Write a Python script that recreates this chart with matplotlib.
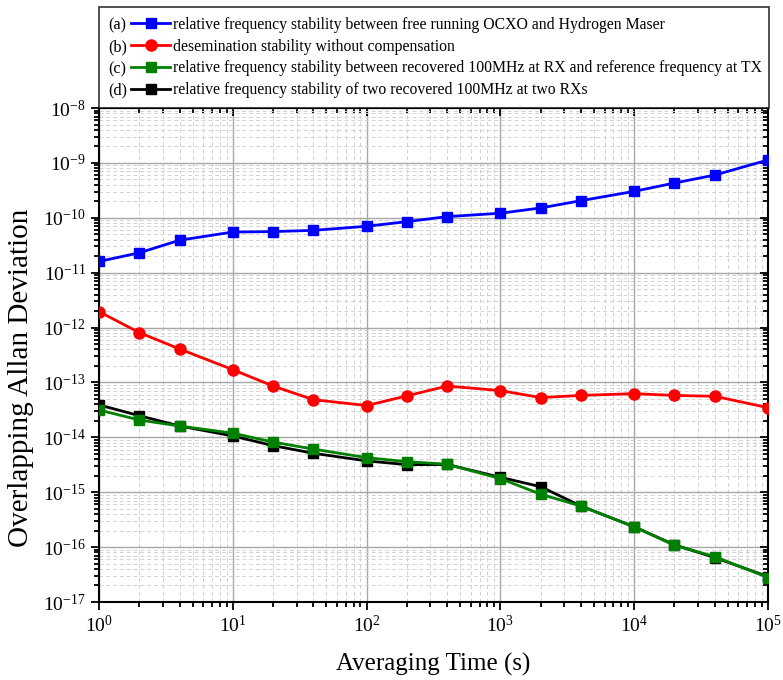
import matplotlib
matplotlib.use("Agg")
import matplotlib.pyplot as plt
from matplotlib.legend_handler import HandlerLine2D
from matplotlib.text import Text
from matplotlib.ticker import LogLocator, LogFormatterMathtext, NullFormatter

plt.rcParams["font.family"] = "Liberation Serif"
plt.rcParams["mathtext.fontset"] = "stix"

# averaging time (s)
tau = [1, 2, 4, 10, 20, 40, 100, 200, 400, 1000, 2000, 4000, 10000, 20000, 40000, 100000]

# (a) free running OCXO vs Hydrogen Maser
adev_a = [1.6e-11, 2.3e-11, 3.9e-11, 5.5e-11, 5.6e-11, 5.9e-11, 7.0e-11, 8.5e-11,
          1.05e-10, 1.21e-10, 1.51e-10, 2.05e-10, 3.03e-10, 4.3e-10, 6.0e-10, 1.13e-9]
# (b) dissemination without compensation
adev_b = [1.95e-12, 8.1e-13, 4.07e-13, 1.71e-13, 8.6e-14, 4.86e-14, 3.79e-14, 5.7e-14,
          8.6e-14, 7.1e-14, 5.3e-14, 5.8e-14, 6.25e-14, 5.8e-14, 5.6e-14, 3.47e-14]
# (c) recovered 100MHz at RX vs reference at TX
adev_c = [3.15e-14, 2.07e-14, 1.61e-14, 1.19e-14, 8.2e-15, 6.1e-15, 4.27e-15, 3.6e-15,
          3.24e-15, 1.77e-15, 9.2e-16, 5.6e-16, 2.33e-16, 1.08e-16, 6.7e-17, 2.79e-17]
# (d) two recovered 100MHz at two RXs
adev_d = [3.9e-14, 2.48e-14, 1.61e-14, 1.06e-14, 7.06e-15, 5.13e-15, 3.72e-15, 3.18e-15,
          3.2e-15, 1.87e-15, 1.26e-15, 5.6e-16, 2.35e-16, 1.1e-16, 6.45e-17, 2.9e-17]

prefixes = ["(a)", "(b)", "(c)", "(d)"]
labels = [
    "relative frequency stability between free running OCXO and Hydrogen Maser",
    "desemination stability without compensation",
    "relative frequency stability between recovered 100MHz at RX and reference frequency at TX",
    "relative frequency stability of two recovered 100MHz at two RXs",
]

LEG_FS = 11.3


class PrefixHandler(HandlerLine2D):
    """legend handle with a text prefix drawn before the line"""
    def __init__(self, prefix, frac=0.37, **kw):
        super().__init__(**kw)
        self.prefix = prefix
        self.frac = frac

    def create_artists(self, legend, orig_handle, xdescent, ydescent, width, height, fontsize, trans):
        pw = width * self.frac
        arts = super().create_artists(legend, orig_handle, xdescent - pw, ydescent,
                                      width - pw, height, fontsize, trans)
        t = Text(-xdescent, (height - ydescent) / 2, self.prefix, va="center_baseline",
                 ha="left", fontsize=LEG_FS + 0.4, family="Liberation Serif")
        t.set_transform(trans)
        return [t] + list(arts)


fig = plt.figure(figsize=(7.83, 6.8), dpi=100)
ax = fig.add_axes([99 / 783, 78 / 680, 669 / 783, 494 / 680])

ax.set_xscale("log")
ax.set_yscale("log")

lw = 2
hd, = ax.plot(tau, adev_d, color="black", marker="s", ms=7, lw=lw, zorder=3)
hc, = ax.plot(tau, adev_c, color="#008000", marker="s", ms=7, lw=lw, zorder=4)
ha, = ax.plot(tau, adev_a, color="blue", marker="s", ms=7, lw=lw, zorder=4)
hb, = ax.plot(tau, adev_b, color="red", marker="o", ms=8, lw=lw, zorder=4)

ax.set_xlim(1, 1e5)
ax.set_ylim(1e-17, 1e-8)

ax.xaxis.set_major_locator(LogLocator(base=10, numticks=10))
ax.xaxis.set_minor_locator(LogLocator(base=10, subs=range(2, 10), numticks=20))
ax.yaxis.set_major_locator(LogLocator(base=10, numticks=12))
ax.yaxis.set_minor_locator(LogLocator(base=10, subs=range(2, 10), numticks=20))
ax.xaxis.set_major_formatter(LogFormatterMathtext())
ax.yaxis.set_major_formatter(LogFormatterMathtext())
ax.xaxis.set_minor_formatter(NullFormatter())
ax.yaxis.set_minor_formatter(NullFormatter())

ax.grid(which="major", color="#a8a8a8", lw=1.0, ls="-")
ax.grid(which="minor", color="#d2d2d2", lw=0.7, ls=(0, (4, 3)))
ax.set_axisbelow(True)

ax.tick_params(which="both", direction="out", width=1.3, labelsize=14)
ax.tick_params(which="major", length=6)
ax.tick_params(which="minor", length=3.5)
# inward mirrored ticks on top / right
ax.tick_params(which="both", top=True, right=True)
for t in ax.xaxis.get_major_ticks() + ax.xaxis.get_minor_ticks():
    t.tick2line.set_marker(3)
for t in ax.yaxis.get_major_ticks() + ax.yaxis.get_minor_ticks():
    t.tick2line.set_marker(0)
for s in ax.spines.values():
    s.set_linewidth(1.5)

ax.set_xlabel("Averaging Time (s)", fontsize=18, labelpad=12)
ax.set_ylabel("Overlapping Allan Deviation", fontsize=21)
ax.yaxis.set_label_coords(-0.097, 0.453)

handles = [ha, hb, hc, hd]
leg = fig.legend(
    handles, labels,
    handler_map={h: PrefixHandler(p) for h, p in zip(handles, prefixes)},
    loc="lower left",
    bbox_to_anchor=(99 / 783, 572 / 680, 670 / 783, 101 / 680),
    mode="expand", borderaxespad=0, fontsize=LEG_FS, handlelength=3.9,
    handletextpad=0.2, labelspacing=0.37, borderpad=0.62,
    fancybox=False, frameon=True, edgecolor="black",
)
leg.get_frame().set_linewidth(1.2)

fig.savefig("out.png", dpi=100)
